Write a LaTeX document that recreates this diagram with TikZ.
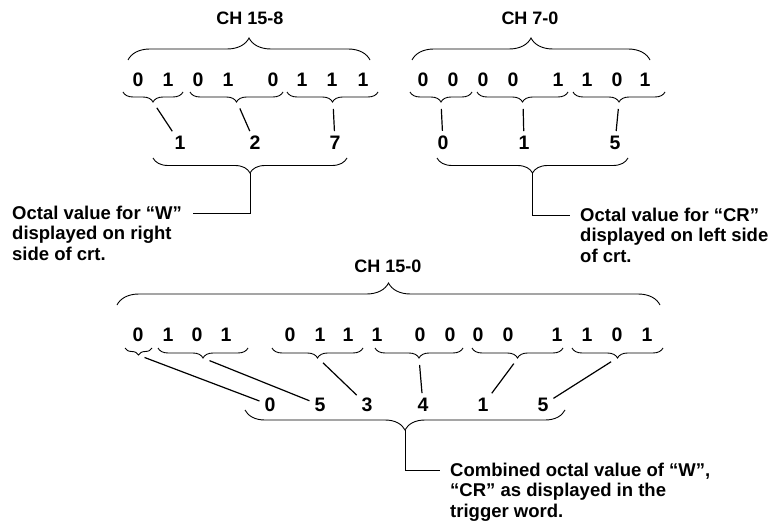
\documentclass[tikz,border=0pt]{standalone}
\usepackage{fontspec}
\setmainfont{Liberation Sans}
\usetikzlibrary{decorations.pathreplacing}

\tikzset{
  bitnum/.style={inner sep=1pt, font=\fontsize{19.5}{19.5}\selectfont\bfseries},
  octnum/.style={inner sep=4pt, font=\fontsize{19.5}{19.5}\selectfont\bfseries},
  chlabel/.style={font=\fontsize{18}{18}\selectfont\bfseries},
  note/.style={align=left, anchor=base west, inner sep=0pt, font=\fontsize{18.5}{20.5}\selectfont\bfseries},
  curly/.style={decorate, decoration={brace, amplitude=#1}, line width=0.9pt},
  link/.style={line width=1.2pt, shorten <=7pt, shorten >=1pt},
  leader/.style={line width=0.9pt},
}

\begin{document}
\begin{tikzpicture}[x=1pt, y=1pt]
  \useasboundingbox (0,0) rectangle (783,-529);
  % CH 15-8 (left character)
  \node[chlabel] (chW) at (250,-18) {CH 15-8};
  \draw[curly=22pt] (128,-60) -- (370,-60);
  \foreach \x/\b [count=\i] in {138/0,168/1,198/0,228/1,273/0,302/1,332/1,363/1}
    \node[bitnum] (a\i) at (\x,-80) {\b};
  \draw[curly=10pt] (183,-92) -- (123,-92);
  \draw[curly=10pt] (283,-92) -- (190,-92);
  \draw[curly=10pt] (378,-92) -- (287,-92);
  \coordinate (ta1) at (153,-102);
  \coordinate (ta2) at (237,-102);
  \coordinate (ta3) at (333,-102);
  \node[octnum] (oa1) at (180,-143) {1};
  \node[octnum] (oa2) at (255,-143) {2};
  \node[octnum] (oa3) at (335,-143) {7};
  \draw[link] (ta1) -- (oa1);
  \draw[link] (ta2) -- (oa2);
  \draw[link] (ta3) -- (oa3);
  \draw[curly=15pt] (347,-158) -- (153,-158);
  \coordinate (tw) at (250,-173);
  \coordinate (wend) at (193,-213);
  \draw[leader] (tw) |- (wend);
  \node[note] (noteW) at (12,-260) {Octal value for ``W''\\displayed on right\\side of crt.};

  % CH 7-0 (right character)
  \node[chlabel] (chCR) at (530,-18) {CH 7-0};
  \draw[curly=22pt] (412,-60) -- (650,-60);
  \foreach \x/\b [count=\i] in {423/0,453/0,483/0,513/0,558/1,587/1,617/0,645/1}
    \node[bitnum] (c\i) at (\x,-80) {\b};
  \draw[curly=10pt] (472,-92) -- (410,-92);
  \draw[curly=10pt] (568,-92) -- (477,-92);
  \draw[curly=10pt] (665,-92) -- (573,-92);
  \coordinate (tc1) at (441,-102);
  \coordinate (tc2) at (523,-102);
  \coordinate (tc3) at (619,-102);
  \node[octnum] (oc1) at (443,-143) {0};
  \node[octnum] (oc2) at (524,-143) {1};
  \node[octnum] (oc3) at (615,-143) {5};
  \draw[link] (tc1) -- (oc1);
  \draw[link] (tc2) -- (oc2);
  \draw[link] (tc3) -- (oc3);
  \draw[curly=15pt] (628,-158) -- (437,-158);
  \coordinate (tcr) at (532,-173);
  \coordinate (crend) at (570,-215);
  \draw[leader] (tcr) |- (crend);
  \node[note] (noteCR) at (580,-262) {Octal value for ``CR''\\displayed on left side\\of crt.};

  % CH 15-0 (trigger word)
  \node[chlabel] (chT) at (388,-266) {CH 15-0};
  \draw[curly=22pt] (117,-305) -- (660,-305);
  \foreach \x/\b [count=\i] in {138/0,168/1,197/0,226/1,290/0,320/1,348/1,377/1,
                                420/0,450/0,478/0,508/0,557/1,587/1,617/0,647/1}
    \node[bitnum] (t\i) at (\x,-335) {\b};
  \draw[curly=7pt] (152,-348) -- (125,-348);
  \draw[curly=10pt] (248,-348) -- (158,-348);
  \draw[curly=10pt] (363,-348) -- (272,-348);
  \draw[curly=10pt] (463,-348) -- (375,-348);
  \draw[curly=10pt] (563,-348) -- (472,-348);
  \draw[curly=10pt] (663,-348) -- (572,-348);
  \coordinate (tt1) at (138,-355);
  \coordinate (tt2) at (203,-358);
  \coordinate (tt3) at (318,-358);
  \coordinate (tt4) at (419,-358);
  \coordinate (tt5) at (518,-358);
  \coordinate (tt6) at (617,-358);
  \foreach \x/\v [count=\i] in {270/0,320/5,367/3,423/4,483/1,543/5}
    \node[octnum] (ot\i) at (\x,-405) {\v};
  \foreach \i in {1,...,6}
    \draw[link] (tt\i) -- (ot\i);
  \draw[curly=20pt] (565,-410) -- (245,-410);
  \coordinate (tall) at (405,-430);
  \coordinate (allend) at (440,-470);
  \draw[leader] (tall) |- (allend);
  \node[note] (noteT) at (450,-517) {Combined octal value of ``W'',\\``CR'' as displayed in the\\trigger word.};
\end{tikzpicture}
\end{document}
